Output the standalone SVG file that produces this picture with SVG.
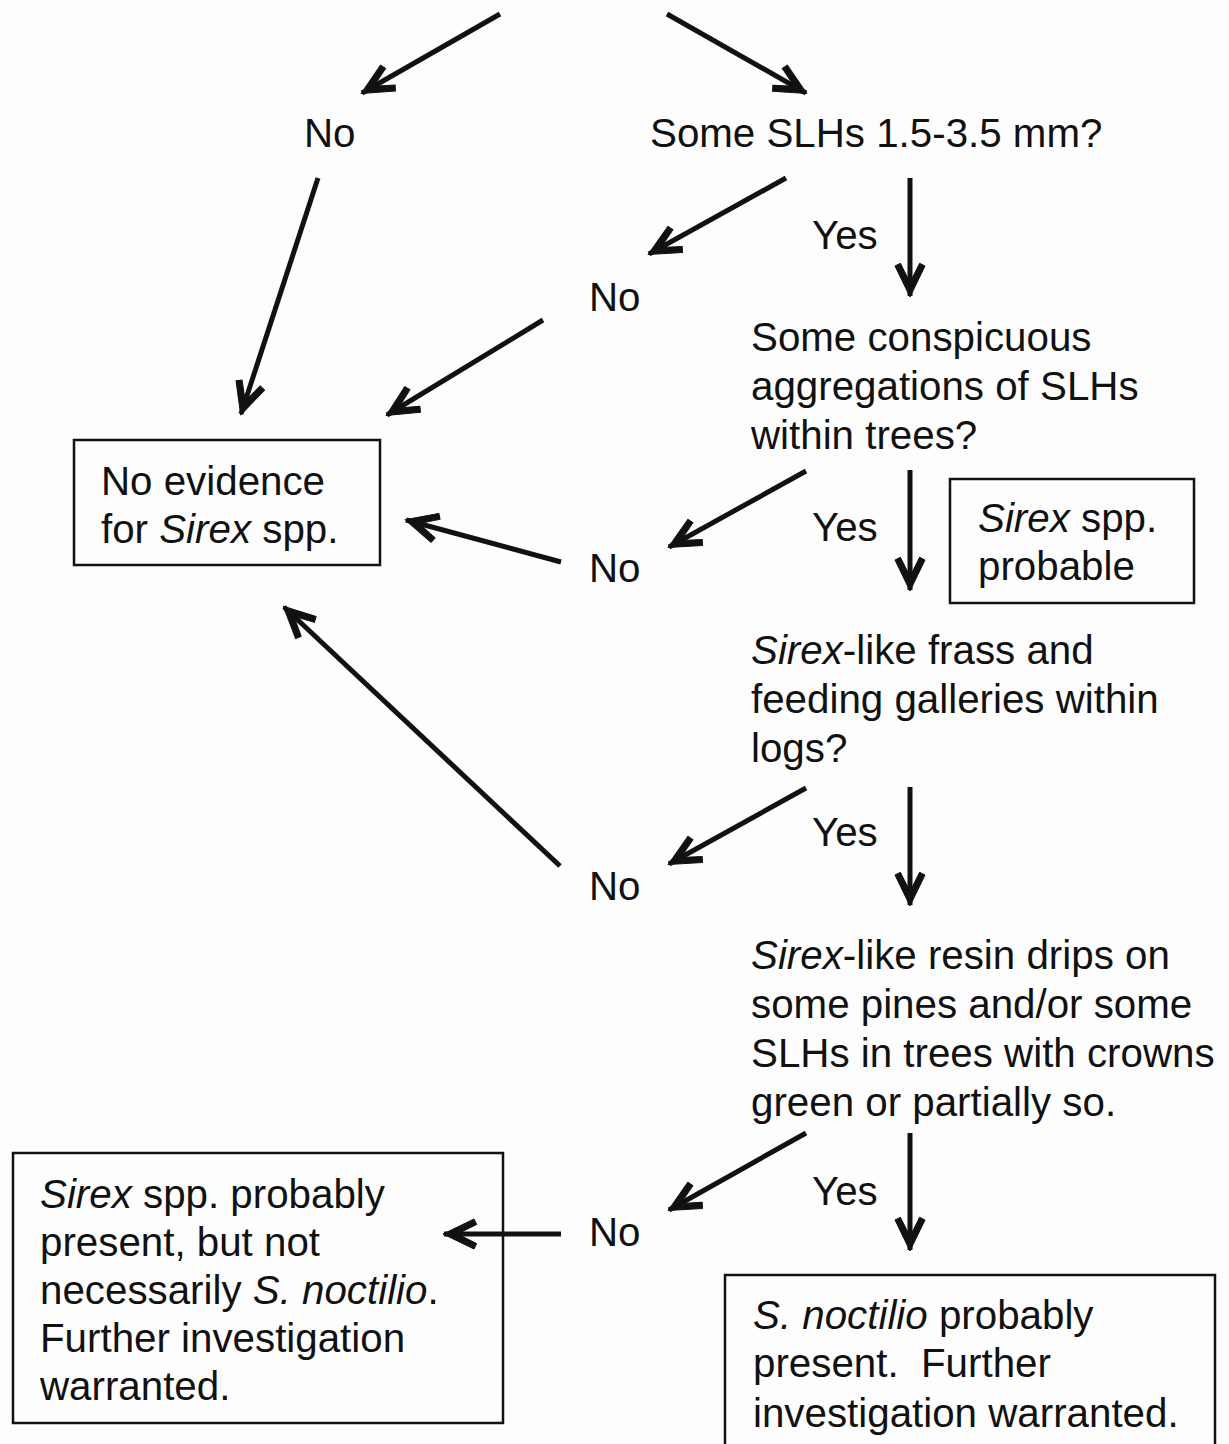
<svg xmlns="http://www.w3.org/2000/svg" width="1229" height="1444" viewBox="0 0 1229 1444">
<style>
text{font-family:"Liberation Sans",Arial,sans-serif;font-size:40.3px;fill:#111}
.i{font-style:italic}
.box{fill:none;stroke:#111;stroke-width:2.5}
.c line{stroke:#111;stroke-width:5;marker-end:url(#ah)}
</style>
<defs>
<marker id="ah" markerUnits="userSpaceOnUse" orient="auto" refX="0" refY="0" viewBox="-36 -18 38 36" markerWidth="38" markerHeight="36">
<path d="M1,0 L-30,-15 L-32.7,-9.6 L-13.5,0 L-32.7,9.6 L-30,15 Z" fill="#111" stroke="#111" stroke-width="1" stroke-linejoin="round"/>
</marker>
</defs>
<rect width="1229" height="1444" fill="#fdfdfd"/>
<g class="c" id="connectors">
<line x1="500" y1="14" x2="362" y2="93"/>
<line x1="667" y1="14" x2="806" y2="93"/>
<line x1="318" y1="178" x2="241" y2="414"/>
<line x1="786" y1="178" x2="649" y2="254"/>
<line x1="910" y1="178" x2="910" y2="296"/>
<line x1="543" y1="320" x2="387" y2="415"/>
<line x1="806" y1="471" x2="669" y2="547"/>
<line x1="910" y1="470" x2="910" y2="590"/>
<line x1="561" y1="562" x2="406" y2="520"/>
<line x1="560" y1="866" x2="284" y2="607"/>
<line x1="806" y1="788" x2="669" y2="864"/>
<line x1="910" y1="787" x2="910" y2="905"/>
<line x1="806" y1="1133" x2="669" y2="1210"/>
<line x1="910" y1="1133" x2="910" y2="1250"/>
<line x1="561" y1="1234" x2="444" y2="1234"/>
</g>
<g id="no1"><text x="304" y="147">No</text></g>
<g id="q1"><text x="650" y="147">Some SLHs 1.5-3.5 mm?</text></g>
<g id="yes1"><text x="812" y="249">Yes</text></g>
<g id="no2"><text x="589" y="311">No</text></g>
<g id="q2"><text x="751" y="351">Some conspicuous</text><text x="751" y="400">aggregations of SLHs</text><text x="751" y="449">within trees?</text></g>
<g id="noEvidence"><rect class="box" x="74" y="440" width="306" height="125"/><text x="101" y="495">No evidence</text><text x="101" y="543">for <tspan class="i">Sirex</tspan> spp.</text></g>
<g id="yes2"><text x="812" y="541">Yes</text></g>
<g id="no3"><text x="589" y="582">No</text></g>
<g id="probable"><rect class="box" x="950" y="479" width="244" height="124"/><text x="978" y="532"><tspan class="i">Sirex</tspan> spp.</text><text x="978" y="580">probable</text></g>
<g id="q3"><text x="751" y="664"><tspan class="i">Sirex</tspan>-like frass and</text><text x="751" y="713">feeding galleries within</text><text x="751" y="762">logs?</text></g>
<g id="yes3"><text x="812" y="846">Yes</text></g>
<g id="no4"><text x="589" y="900">No</text></g>
<g id="q4"><text x="751" y="969"><tspan class="i">Sirex</tspan>-like resin drips on</text><text x="751" y="1018">some pines and/or some</text><text x="751" y="1067">SLHs in trees with crowns</text><text x="751" y="1116">green or partially so.</text></g>
<g id="yes4"><text x="812" y="1205">Yes</text></g>
<g id="no5"><text x="589" y="1246">No</text></g>
<g id="sirexPresent"><rect class="box" x="13" y="1153" width="490" height="270"/><text x="40" y="1208"><tspan class="i">Sirex</tspan> spp. probably</text><text x="40" y="1256">present, but not</text><text x="40" y="1304">necessarily <tspan class="i">S. noctilio</tspan>.</text><text x="40" y="1352">Further investigation</text><text x="40" y="1400">warranted.</text></g>
<g id="noctilioPresent"><rect class="box" x="725" y="1275" width="490" height="190"/><text x="753" y="1329"><tspan class="i">S. noctilio</tspan> probably</text><text x="753" y="1377" style="white-space:pre">present.  Further</text><text x="753" y="1427">investigation warranted.</text></g>
</svg>
